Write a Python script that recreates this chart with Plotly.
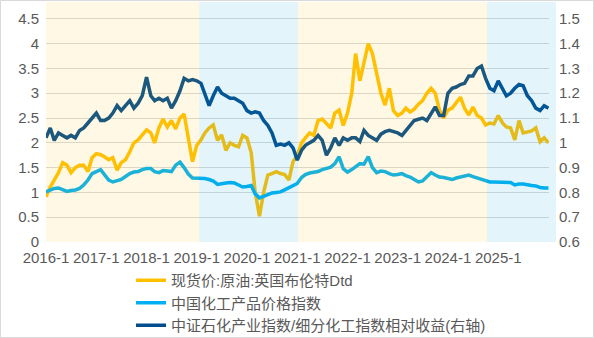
import plotly.graph_objects as go
from plotly.subplots import make_subplots
import pandas as pd

# ---------------- data ----------------
dates = pd.date_range("2016-01-01", periods=121, freq="MS")

brent = [0.91, 1.11, 1.25, 1.40, 1.60, 1.55, 1.40, 1.50, 1.55, 1.55,
         1.42, 1.70, 1.78, 1.76, 1.72, 1.66, 1.70, 1.45, 1.60, 1.66,
         1.82, 2.00, 2.06, 2.15, 2.26, 2.20, 2.00, 2.30, 2.48, 2.32,
         2.45, 2.28, 2.50, 2.58, 2.06, 1.62, 1.95, 2.06, 2.20, 2.30,
         2.36, 2.05, 2.16, 1.85, 2.00, 1.95, 1.92, 2.15, 2.10, 1.80,
         1.00, 0.52, 1.00, 1.35, 1.38, 1.42, 1.38, 1.36, 1.25, 1.62,
         1.75, 2.00, 2.10, 2.20, 2.15, 2.45, 2.48, 2.38, 2.30, 2.60,
         2.66, 2.35, 2.60, 3.00, 3.80, 3.25, 3.60, 4.00, 3.80, 3.40,
         3.00, 2.76, 3.10, 2.65, 2.55, 2.60, 2.70, 2.62, 2.68, 2.78,
         2.85, 3.00, 3.10, 3.00, 2.66, 2.50, 2.66, 2.70, 2.80, 2.92,
         2.70, 2.56, 2.72, 2.55, 2.50, 2.36, 2.40, 2.38, 2.55, 2.40,
         2.32, 2.30, 2.06, 2.45, 2.20, 2.22, 2.24, 2.30, 2.02, 2.10,
         2.00]

chem = [1.01, 1.04, 1.08, 1.09, 1.05, 1.02, 1.04, 1.05, 1.08, 1.15,
        1.25, 1.38, 1.42, 1.46, 1.36, 1.25, 1.21, 1.23, 1.26, 1.32,
        1.38, 1.41, 1.42, 1.46, 1.48, 1.48, 1.42, 1.40, 1.44, 1.43,
        1.42, 1.55, 1.61, 1.50, 1.37, 1.29, 1.29, 1.29, 1.28, 1.26,
        1.23, 1.16, 1.18, 1.19, 1.20, 1.19, 1.15, 1.11, 1.12, 1.14,
        0.97, 0.89, 0.92, 0.96, 0.99, 1.00, 1.01, 1.05, 1.10, 1.14,
        1.18, 1.30, 1.36, 1.39, 1.40, 1.42, 1.46, 1.49, 1.51, 1.58,
        1.72, 1.48, 1.41, 1.46, 1.52, 1.58, 1.57, 1.72, 1.50, 1.40,
        1.43, 1.42, 1.38, 1.35, 1.36, 1.38, 1.34, 1.31, 1.26, 1.21,
        1.23, 1.32, 1.40, 1.35, 1.31, 1.30, 1.28, 1.26, 1.29, 1.31,
        1.33, 1.35, 1.32, 1.29, 1.27, 1.23, 1.21, 1.21, 1.21, 1.21,
        1.20, 1.20, 1.15, 1.17, 1.17, 1.15, 1.14, 1.13, 1.10, 1.09,
        1.09]

rel = [1.02, 1.06, 1.01, 1.04, 1.03, 1.02, 1.03, 1.02, 1.05, 1.06,
       1.08, 1.10, 1.12, 1.09, 1.09, 1.10, 1.12, 1.15, 1.13, 1.15,
       1.17, 1.14, 1.16, 1.19, 1.265, 1.19, 1.17, 1.18, 1.17, 1.18,
       1.14, 1.17, 1.21, 1.26, 1.25, 1.255, 1.25, 1.24, 1.20, 1.15,
       1.19, 1.225, 1.20, 1.19, 1.18, 1.18, 1.17, 1.16, 1.13, 1.12,
       1.125, 1.12, 1.09, 1.07, 1.04, 0.99, 0.995, 0.99, 1.00, 0.98,
       0.93, 0.97, 0.99, 1.00, 1.01, 1.03, 1.01, 0.95, 0.98, 1.02,
       0.99, 1.02, 1.01, 1.02, 1.02, 1.005, 1.05, 1.03, 1.02, 1.01,
       1.035, 1.045, 1.05, 1.045, 1.04, 1.03, 1.05, 1.07, 1.09, 1.095,
       1.10, 1.09, 1.12, 1.145, 1.11, 1.11, 1.20, 1.22, 1.225, 1.235,
       1.24, 1.27, 1.27, 1.30, 1.31, 1.26, 1.22, 1.21, 1.25, 1.22,
       1.19, 1.20, 1.22, 1.235, 1.23, 1.19, 1.17, 1.14, 1.13, 1.15,
       1.14]

series_names = ["现货价:原油:英国布伦特Dtd", "中国化工产品价格指数",
                "中证石化产业指数/细分化工指数相对收益(右轴)"]

year_ticks = [f"{y}-01-01" for y in range(2016, 2026)]
year_labels = [f"{y}-1" for y in range(2016, 2026)]
left_ticks = [0, 0.5, 1, 1.5, 2, 2.5, 3, 3.5, 4, 4.5]
left_labels = ["0", "0.5", "1", "1.5", "2", "2.5", "3", "3.5", "4", "4.5"]
right_ticks = [0.6, 0.7, 0.8, 0.9, 1.0, 1.1, 1.2, 1.3, 1.4, 1.5]
right_labels = ["0.6", "0.7", "0.8", "0.9", "1", "1.1", "1.2", "1.3", "1.4", "1.5"]

shade_starts = ["2016-01-01", "2019-01-20", "2021-01-05", "2024-10-12"]
shade_ends = ["2019-01-20", "2021-01-05", "2024-10-12", "2026-01-05"]
shade_kind = ["y", "b", "y", "b"]

# ---------------- style ----------------
W, H = 594, 338
ML, MR, MT, MB = 46, 45, 2, 96
PW, PH = W - ML - MR, H - MT - MB
FONT = "Liberation Sans, Arial, Noto Sans CJK SC, sans-serif"
TXT = "#595959"
C_BRENT, C_CHEM, C_REL = "#FFC000", "#00B0F0", "#004C8C"
SH = {"y": "rgba(255,189,19,0.11)", "b": "rgba(22,163,222,0.12)"}

fig = make_subplots(specs=[[{"secondary_y": True}]])
fig.add_trace(go.Scatter(x=dates, y=brent, name=series_names[0], mode="lines",
                         line=dict(color=C_BRENT, width=3.5)), secondary_y=False)
fig.add_trace(go.Scatter(x=dates, y=chem, name=series_names[1], mode="lines",
                         line=dict(color=C_CHEM, width=3.5)), secondary_y=False)
fig.add_trace(go.Scatter(x=dates, y=rel, name=series_names[2], mode="lines",
                         line=dict(color=C_REL, width=3.5)), secondary_y=True)

shapes = []
for s, e, k in zip(shade_starts, shade_ends, shade_kind):
    shapes.append(dict(type="rect", xref="x", yref="paper", x0=s, x1=e, y0=0, y1=1,
                       fillcolor=SH[k], line=dict(width=0), layer="above"))
# extension of last shaded band beyond the data area
shapes.append(dict(type="rect", xref="paper", yref="paper", x0=1, x1=1 + 7 / PW, y0=0, y1=1,
                   fillcolor=SH["b"], line=dict(width=0), layer="above"))
# outer frame
shapes.append(dict(type="rect", xref="paper", yref="paper",
                   x0=(0.5 - ML) / PW, x1=(W - 0.5 - ML) / PW,
                   y0=-(MB - 0.5) / PH, y1=1 + (MT - 0.5) / PH,
                   line=dict(color="#D9D9D9", width=1), fillcolor="rgba(0,0,0,0)", layer="below"))

fig.update_layout(
    width=W, height=H, margin=dict(l=ML, r=MR, t=MT, b=MB, autoexpand=False),
    paper_bgcolor="white", plot_bgcolor="white",
    font=dict(family=FONT, color=TXT, size=15),
    shapes=shapes,
    showlegend=True,
    legend=dict(orientation="v", x=(131 - ML) / PW, xanchor="left",
                y=(242 - 264) / PH, yanchor="top",
                font=dict(size=15, color=TXT, family=FONT), tracegroupgap=0,
                bgcolor="rgba(0,0,0,0)", itemwidth=30),
)
fig.update_xaxes(type="date", domain=[0, 1], range=["2016-01-01", "2026-01-05"],
                 tickvals=year_ticks, ticktext=year_labels, showgrid=False,
                 zeroline=False, showline=False, ticks="", tickangle=0,
                 automargin=False, ticklabelstandoff=5,
                 tickfont=dict(size=15, color=TXT))
fig.update_yaxes(range=[0, 4.84], tickvals=left_ticks, ticktext=left_labels,
                 showgrid=True, gridcolor="#D9D9D9", gridwidth=1, zeroline=False,
                 ticks="", automargin=False, ticklabelstandoff=6,
                 tickfont=dict(size=15, color=TXT), secondary_y=False)
fig.update_yaxes(range=[0.6, 0.6 + 4.84 / 5], tickvals=right_ticks, ticktext=right_labels,
                 showgrid=False, zeroline=False, ticks="", automargin=False,
                 ticklabelstandoff=9, tickfont=dict(size=15, color=TXT),
                 secondary_y=True)

fig.write_html("out.html")
